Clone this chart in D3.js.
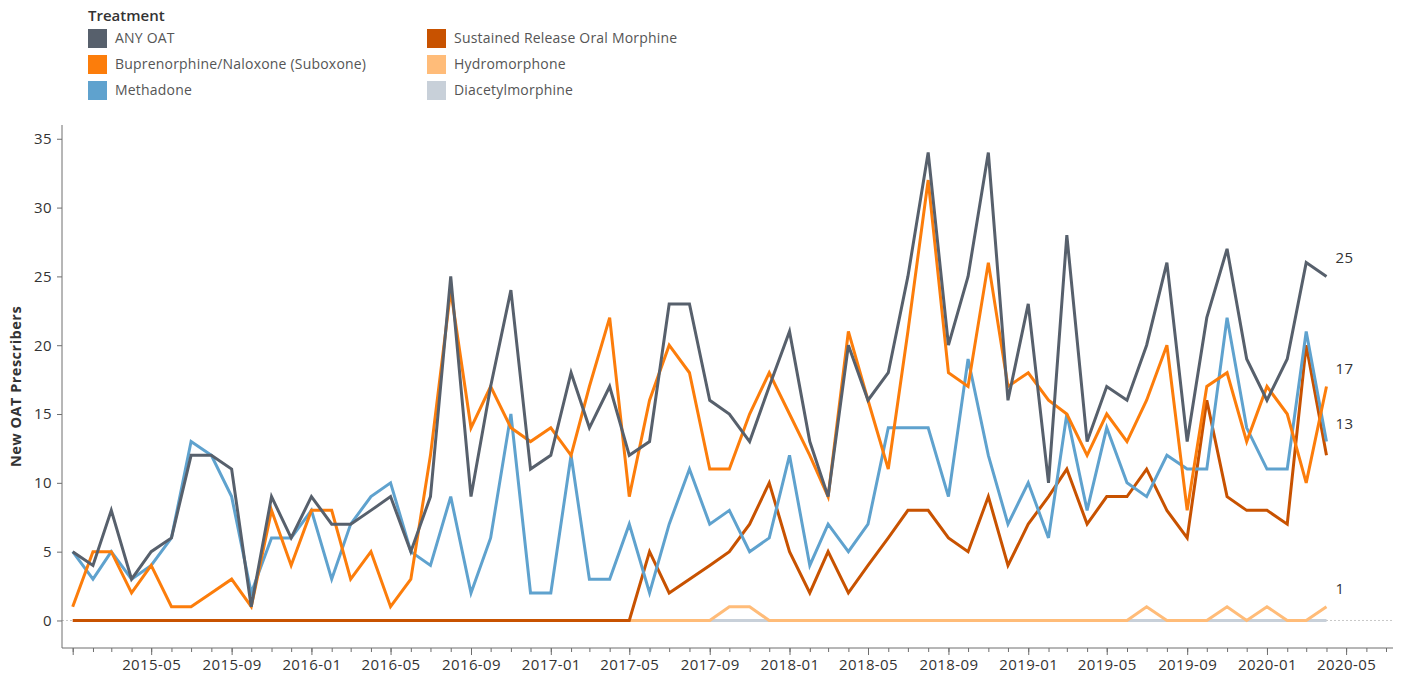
<!DOCTYPE html>
<html lang="en">
<head>
    <meta charset="UTF-8">
    <title>New OAT Prescribers</title>
    <style>
        body { margin: 0; background: #fff; }
        text { font-family: "Open Sans", "Noto Sans", sans-serif; }
    </style>
</head>
<body>
    <div id="chartContainer"></div>

    <script src="https://d3js.org/d3.v7.min.js"></script>
    <script>
        // Monthly series, 2015-01 to 2020-04
        const startMonth = new Date(2015, 0, 1);
        const anyOat = [5,4,8,3,5,6,12,12,11,1,9,6,9,7,7,8,9,5,9,25,9,17,24,11,12,18,14,17,12,13,23,23,16,15,13,17,21,13,9,20,16,18,25,34,20,25,34,16,23,10,28,13,17,16,20,26,13,22,27,19,16,19,26,25];
        const suboxone = [1,5,5,2,4,1,1,2,3,1,8,4,8,8,3,5,1,3,12,24,14,17,14,13,14,12,17,22,9,16,20,18,11,11,15,18,15,12,9,21,16,11,21,32,18,17,26,17,18,16,15,12,15,13,16,20,8,17,18,13,17,15,10,17];
        const methadone = [5,3,5,3,4,6,13,12,9,2,6,6,8,3,7,9,10,5,4,9,2,6,15,2,2,12,3,3,7,2,7,11,7,8,5,6,12,4,7,5,7,14,14,14,9,19,12,7,10,6,15,8,14,10,9,12,11,11,22,14,11,11,21,13];
        const srom = [0,0,0,0,0,0,0,0,0,0,0,0,0,0,0,0,0,0,0,0,0,0,0,0,0,0,0,0,0,5,2,3,4,5,7,10,5,2,5,2,4,6,8,8,6,5,9,4,7,9,11,7,9,9,11,8,6,16,9,8,8,7,20,12];
        // these two only start in 2017-05 (index 28)
        const hydromorphone = [0,0,0,0,0,1,1,0,0,0,0,0,0,0,0,0,0,0,0,0,0,0,0,0,0,0,1,0,0,0,1,0,1,0,0,1];
        const diacetylmorphine = [0,0,0,0,0,0,0,0,0,0,0,0,0,0,0,0,0,0,0,0,0,0,0,0,0,0,0,0,0,0,0,0,0,0,0,0];

        const seriesNames = ["ANY OAT", "Buprenorphine/Naloxone (Suboxone)", "Methadone",
                             "Sustained Release Oral Morphine", "Hydromorphone", "Diacetylmorphine"];
        const seriesColors = ["#57606c", "#fc7d0b", "#5fa2ce", "#c85200", "#ffbc79", "#c8d0d9"];
        const seriesValues = [anyOat, suboxone, methadone, srom, hydromorphone, diacetylmorphine];
        const seriesStart = [0, 0, 0, 0, 28, 28];
        const endLabels = ["25", "17", "13", null, "1", null];
        const yTicks = [0, 5, 10, 15, 20, 25, 30, 35];

        const width = 1402, height = 679;

        const svg = d3.select("#chartContainer")
            .append("svg")
                .attr("width", width)
                .attr("height", height);

        // build rows of {date, value}
        const series = seriesNames.map((name, s) => ({
            name: name,
            color: seriesColors[s],
            label: endLabels[s],
            points: seriesValues[s].map((v, i) => ({
                date: d3.timeMonth.offset(startMonth, seriesStart[s] + i),
                value: v
            }))
        }));

        // scales
        const x = d3.scaleTime()
            .domain([startMonth, new Date(2020, 6, 1)])
            .range([72.7, 1386]);

        const y = d3.scaleLinear()
            .domain([-2, 36])
            .range([648, 125]);

        const axisColor = "#6e6e6e";
        const textColor = "#333";

        // zero reference line
        svg.append("line")
            .attr("x1", 62).attr("x2", 1393)
            .attr("y1", y(0)).attr("y2", y(0))
            .attr("stroke", "#c8c8c8")
            .attr("stroke-width", 1)
            .attr("stroke-dasharray", "2,2");

        // y axis
        const yAxis = svg.append("g")
            .attr("transform", "translate(62,0)")
            .call(d3.axisLeft(y).tickValues(yTicks).tickSize(5).tickPadding(5));
        yAxis.select(".domain").remove();
        yAxis.selectAll(".tick line").attr("stroke", axisColor);
        yAxis.selectAll("text")
            .attr("fill", textColor)
            .style("font-size", "15px")
            .style("letter-spacing", "0.4px");

        svg.append("line")
            .attr("x1", 62).attr("x2", 62)
            .attr("y1", 125).attr("y2", 648)
            .attr("stroke", axisColor);

        // x axis: monthly minor ticks, labels every 4 months
        const xMinor = svg.append("g")
            .attr("transform", "translate(0,648)")
            .call(d3.axisBottom(x).ticks(d3.timeMonth.every(1)).tickSize(4).tickFormat(""));
        xMinor.select(".domain").remove();
        xMinor.selectAll(".tick line").attr("stroke", axisColor);

        const xMajor = svg.append("g")
            .attr("transform", "translate(0,648)")
            .call(d3.axisBottom(x).ticks(d3.timeMonth.every(4)).tickSize(7).tickPadding(4)
                .tickFormat(d => d.getTime() === startMonth.getTime() ? "" : d3.timeFormat("%Y-%m")(d)));
        xMajor.select(".domain").remove();
        xMajor.selectAll(".tick line").attr("stroke", axisColor);
        xMajor.selectAll("text")
            .attr("fill", textColor)
            .style("font-size", "15px")
            .style("letter-spacing", "0.4px");

        svg.append("line")
            .attr("x1", 62).attr("x2", 1393)
            .attr("y1", 648).attr("y2", 648)
            .attr("stroke", axisColor);

        // y axis title
        svg.append("text")
            .attr("transform", "translate(21," + y(17) + ") rotate(-90)")
            .attr("text-anchor", "middle")
            .attr("fill", textColor)
            .style("font-size", "14.5px")
            .style("font-weight", "bold")
            .style("letter-spacing", "0.5px")
            .text("New OAT Prescribers");

        // lines, last legend entry drawn first so ANY OAT sits on top
        const line = d3.line()
            .x(d => x(d.date))
            .y(d => y(d.value));

        svg.append("g")
            .selectAll("path")
            .data(series.slice().reverse())
            .join("path")
                .attr("fill", "none")
                .attr("stroke", d => d.color)
                .attr("stroke-width", 3)
                .attr("stroke-linejoin", "miter")
                .attr("d", d => line(d.points));

        // end labels
        svg.append("g")
            .selectAll("text")
            .data(series.filter(d => d.label))
            .join("text")
                .attr("x", d => x(d.points[d.points.length - 1].date) + 9)
                .attr("y", d => y(d.points[d.points.length - 1].value) - 17)
                .attr("dominant-baseline", "middle")
                .attr("fill", textColor)
                .style("font-size", "15px")
                .style("letter-spacing", "0.5px")
                .text(d => d.label);

        // legend
        const legend = svg.append("g");
        legend.append("text")
            .attr("x", 88).attr("y", 21)
            .attr("fill", textColor)
            .style("font-size", "15px")
            .style("font-weight", "600")
            .text("Treatment");

        const items = legend.selectAll("g.item")
            .data(series)
            .join("g")
                .attr("class", "item")
                .attr("transform", (d, i) => "translate(" + (i < 3 ? 88 : 427) + "," + (29 + (i % 3) * 26) + ")");
        items.append("rect")
            .attr("width", 19).attr("height", 19)
            .attr("fill", d => d.color);
        items.append("text")
            .attr("x", 27).attr("y", 10)
            .attr("dominant-baseline", "middle")
            .attr("fill", "#555")
            .style("font-size", "14px")
            .style("letter-spacing", "0.2px")
            .text(d => d.name);
    </script>
</body>
</html>
